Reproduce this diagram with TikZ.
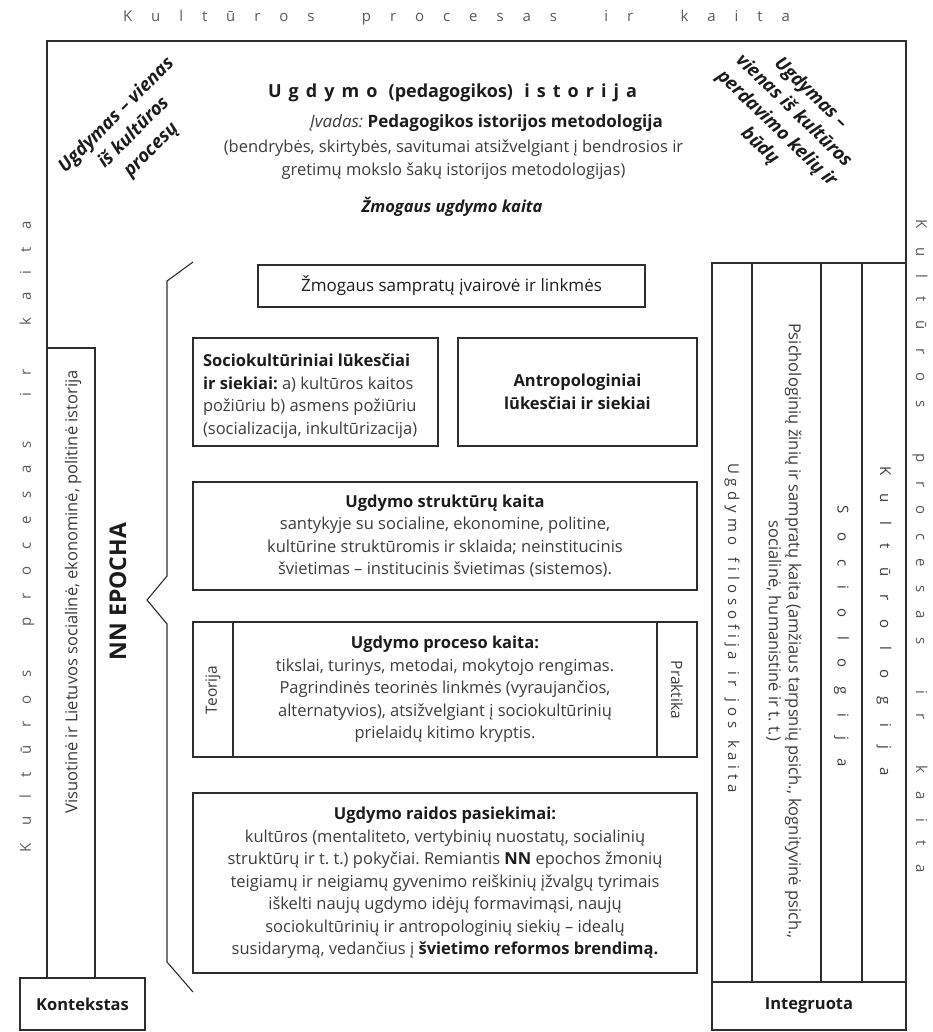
\documentclass[tikz,border=0pt]{standalone}
\usepackage{fontspec}
\setmainfont{Open Sans}
\usetikzlibrary{calc}
\definecolor{ink}{HTML}{1C1C1C}
\definecolor{soft}{HTML}{3C3C3C}
\definecolor{rulec}{HTML}{2E2E2E}
\definecolor{faint}{HTML}{5A5A5A}
\frenchspacing
% letters spread evenly over a given width; "|" marks a word break
\makeatletter
\def\sp@bar{|}
\newcommand\spreadto[3]{\makebox[#1][s]{\def\sp@sep{}\@tfor\sp@ch:=#3\do{\ifx\sp@ch\sp@bar\def\sp@sep{\hskip 0pt plus #2fill\relax}\else\sp@sep\sp@ch\def\sp@sep{\hskip 0pt plus 1fill\relax}\fi}}}
\makeatother
\newcommand\fbody{\fontsize{16.5}{22.5}\selectfont}
\newcommand\fhead{\fontsize{16.5}{22.5}\selectfont\bfseries}
\newcommand\fdiag{\fontsize{18.5}{24.5}\selectfont\bfseries\itshape}
\begin{document}
\begin{tikzpicture}[x=1pt,y=-1pt,
  frame/.style={draw=rulec,line width=1.1pt,inner sep=0pt,outer sep=0pt},
  lbl/.style={inner sep=0pt,outer sep=0pt,text=soft,font=\fbody,align=center},
  hd/.style={lbl,text=ink,font=\fhead},
  spaced/.style={inner sep=0pt,outer sep=0pt,text=faint,font=\fontsize{15}{18}\selectfont}]
\useasboundingbox (0,0) rectangle (933,1032);

% corner boxes and side columns
\node[frame,minimum width=125,minimum height=52,hd] (kont) at (82.5,1004) {Kontekstas};
\node[frame,minimum width=194,minimum height=48,hd] (integ) at (809,1006) {Integruota};
\node[frame,minimum width=48,minimum height=630] (visu) at (71,663) {};
\node[frame,minimum width=40,minimum height=719] (c1) at (732,622.5) {};
\node[frame,minimum width=69,minimum height=719] (c2) at (786.5,622.5) {};
\node[frame,minimum width=41,minimum height=719] (c3) at (841.5,622.5) {};
\node[frame,minimum width=44,minimum height=719] (c4) at (884,622.5) {};

% outer frame
\coordinate (tl) at (47,41);
\coordinate (tr) at (906,41);
\draw[rulec,line width=1.1pt] (kont.north -| tl) -- (tl) -- (tr) -- (integ.north -| tr);

% surrounding letter-spaced captions
\node[spaced] (toplbl) at (456.5,18) {\spreadto{667pt}{2.5}{Kultūros|procesas|ir|kaita}};
\node[spaced,rotate=90] (leftlbl) at (27,537) {\spreadto{631pt}{2.5}{Kultūros|procesas|ir|kaita}};
\node[spaced,rotate=-90] (rightlbl) at (920,546) {\spreadto{653pt}{2.5}{Kultūros|procesas|ir|kaita}};

% heading block
\node[lbl,text=ink,font=\fontsize{18}{22}\selectfont\bfseries] (title) at (452.5,93)
  {\spreadto{369pt}{1.6}{Ugdymo|{(pedagogikos)}|istorija}};
\node[lbl,text=ink,font=\fontsize{17}{22}\selectfont] (intro) at (486.5,123)
  {{\itshape\color{soft}Įvadas:} {\bfseries Pedagogikos istorijos metodologija}};
\node[lbl] (introsub) at (453.5,159.5)
  {(bendrybės, skirtybės, savitumai atsižvelgiant į bendrosios ir\\gretimų mokslo šakų istorijos metodologijas)};
\node[lbl,text=ink,font=\fontsize{16.5}{20}\selectfont\bfseries\itshape] (change) at (452,207) {Žmogaus ugdymo kaita};

% diagonal remarks
\node[lbl,text=ink,font=\fdiag,rotate=45] (diagl) at (134,133) {Ugdymas – vienas\\iš kultūros\\procesų};
\node[lbl,text=ink,font=\fdiag,rotate=-44] (diagr) at (785,120) {Ugdymas –\\vienas iš kultūros\\perdavimo kelių ir\\būdų};

% epoch bracket
\draw[rulec,line width=1.1pt] (193,262) -- (167,281) -- (167,576) -- (147,600) -- (167,624) -- (167,962) -- (193,992);
\node[lbl,text=ink,font=\fontsize{23}{26}\selectfont\bfseries,rotate=90] (epoch) at (118,591.5) {NN EPOCHA};
\node[lbl,rotate=90] (visut) at (73,592) {Visuotinė ir Lietuvos socialinė, ekonominė, politinė istorija};

% central boxes
\node[frame,lbl,text=ink,minimum width=387,minimum height=42,font=\fontsize{17}{20}\selectfont] (samp) at (451.5,286) {Žmogaus sampratų įvairovė ir linkmės};
\node[frame,minimum width=245,minimum height=108] (socio) at (315.5,392) {};
\node[lbl,anchor=west,align=left] (sociot) at (203,396)
  {{\bfseries\color{ink}Sociokultūriniai lūkesčiai}\\{\bfseries\color{ink}ir siekiai:} a) kultūros kaitos\\požiūriu b) asmens požiūriu\\(socializacija, inkultūrizacija)};
\node[frame,hd,minimum width=239,minimum height=108] (antro) at (577.5,392) {Antropologiniai\\lūkesčiai ir siekiai};
\node[frame,lbl,minimum width=504,minimum height=108] (strukt) at (445,536)
  {{\bfseries\color{ink}Ugdymo struktūrų kaita}\\santykyje su socialine, ekonomine, politine,\\kultūrine struktūromis ir sklaida; neinstitucinis\\švietimas – institucinis švietimas (sistemos).};
\node[frame,lbl,minimum width=504,minimum height=135] (proc) at (445,689.5)
  {{\bfseries\color{ink}Ugdymo proceso kaita:}\\tikslai, turinys, metodai, mokytojo rengimas.\\Pagrindinės teorinės linkmės (vyraujančios,\\alternatyvios), atsižvelgiant į sociokultūrinių\\prielaidų kitimo kryptis.};
\draw[rulec,line width=1.1pt] ($(proc.north west)+(40,0)$) -- ($(proc.south west)+(40,0)$);
\draw[rulec,line width=1.1pt] ($(proc.north east)+(-40,0)$) -- ($(proc.south east)+(-40,0)$);
\node[lbl,rotate=90,font=\fontsize{15.5}{18}\selectfont] (teor) at (213,690) {Teorija};
\node[lbl,rotate=-90,font=\fontsize{15.5}{18}\selectfont] (prakt) at (677,690) {Praktika};
\node[frame,lbl,minimum width=504,minimum height=180] (raid) at (445,883)
  {{\bfseries\color{ink}Ugdymo raidos pasiekimai:}\\kultūros (mentaliteto, vertybinių nuostatų, socialinių\\struktūrų ir t. t.) pokyčiai. Remiantis {\bfseries\color{ink}NN} epochos žmonių\\teigiamų ir neigiamų gyvenimo reiškinių įžvalgų tyrimais\\iškelti naujų ugdymo idėjų formavimąsi, naujų\\sociokultūrinių ir antropologinių siekių – idealų\\susidarymą, vedančius į {\bfseries\color{ink}švietimo reformos brendimą.}};

% right column captions
\node[spaced,text=soft,rotate=-90] (c1t) at (732,628) {\spreadto{330pt}{2.5}{Ugdymo|filosofija|ir|jos|kaita}};
\node[lbl,rotate=-90,font=\fontsize{16.5}{20}\selectfont] (c2t) at (784,631)
  {Psichologinių žinių ir sampratų kaita (amžiaus tarpsnių psich., kognityvinė psich.,\\socialinė, humanistinė ir t. t.)};
\node[spaced,text=soft,rotate=-90] (c3t) at (841.5,636) {\spreadto{262pt}{2.5}{Sociologija}};
\node[spaced,text=soft,rotate=-90] (c4t) at (884,621) {\spreadto{310pt}{2.5}{Kultūrologija}};
\end{tikzpicture}
\end{document}
